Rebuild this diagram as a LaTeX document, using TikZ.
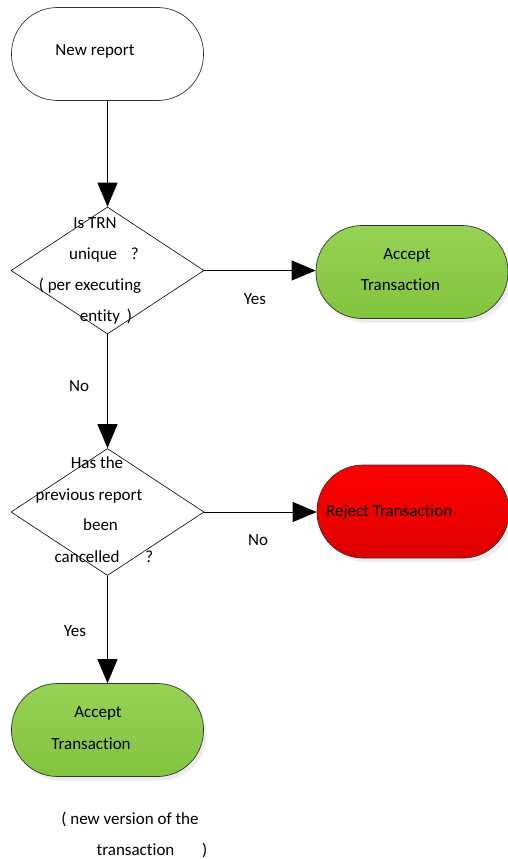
\documentclass[tikz,border=0pt]{standalone}
\usepackage{fontspec}
\setmainfont{Carlito}[Ligatures=NoCommon]
\usetikzlibrary{shapes.geometric,arrows.meta,shadows}
\definecolor{gtop}{RGB}{150,210,85}
\definecolor{gbot}{RGB}{130,196,62}
\definecolor{rtop}{RGB}{255,0,0}
\definecolor{rbot}{RGB}{220,0,0}
\begin{document}
\begin{tikzpicture}[x=1pt,y=-1pt,
  every node/.style={font=\fontsize{17}{20}\selectfont},
  term/.style={draw=black!80, line width=0.7pt, rectangle, rounded corners=46pt, minimum width=192pt, minimum height=93pt, inner sep=0pt},
  greenterm/.style={term, top color=gtop, bottom color=gbot, drop shadow={shadow xshift=3pt, shadow yshift=-4pt, opacity=0.15}},
  redterm/.style={term, top color=rtop, bottom color=rbot, drop shadow={shadow xshift=3pt, shadow yshift=-4pt, opacity=0.15}},
  decis/.style={draw=black, line width=0.6pt, diamond, minimum width=193pt, minimum height=127pt, inner sep=0pt},
  conn/.style={draw=black, line width=0.9pt, -{Triangle[length=24pt,width=20pt]}},
  lbl/.style={inner sep=0pt, anchor=base}
]
\useasboundingbox (0,0) rectangle (508,859);

\node[term] (start) at (107.5,54) {};
\node[lbl] (t0) at (95,56) {New report};

\node[decis] (d1) at (107.5,270.5) {};
\node[lbl] (d1a) at (95,228) {Is TRN};
\node[lbl] (d1b) at (104,259) {unique \hspace{10pt}?};
\node[lbl] (d1c) at (90,290) {( per executing};
\node[lbl] (d1d) at (106,321) {entity \hspace{3pt})};

\node[greenterm] (acc1) at (412,272) {};
\node[lbl] (acc1a) at (407,259) {Accept};
\node[lbl] (acc1b) at (400.5,290) {Transaction};

\node[decis] (d2) at (107.5,512) {};
\node[lbl] (d2a) at (97,468) {Has the};
\node[lbl] (d2b) at (89,500) {previous report};
\node[lbl] (d2c) at (100.5,530) {been};
\node[lbl] (d2d) at (104,562) {cancelled \hspace{22pt}?};

\node[redterm] (rej) at (413,511.5) {};
\node[lbl, anchor=base west] (reja) at (326,516) {Reject Transaction};

\node[greenterm] (acc2) at (107.5,730) {};
\node[lbl] (acc2a) at (98,717) {Accept};
\node[lbl] (acc2b) at (91,749) {Transaction};

\node[lbl] (n1) at (130,824) {( new version of the};
\node[lbl] (n2) at (152,855) {transaction \hspace{24pt})};

\node[lbl] (y1) at (255,304) {Yes};
\node[lbl] (no1) at (79,391) {No};
\node[lbl] (no2) at (258,545) {No};
\node[lbl] (y2) at (75,636) {Yes};

\draw[conn] (start.south) -- (d1.north);
\draw[conn] (d1.east) -- (d1.east -| acc1.west);
\draw[conn] (d1.south) -- (d2.north);
\draw[conn] (d2.east) -- (d2.east -| rej.west);
\draw[conn] (d2.south) -- (acc2.north);
\end{tikzpicture}
\end{document}
